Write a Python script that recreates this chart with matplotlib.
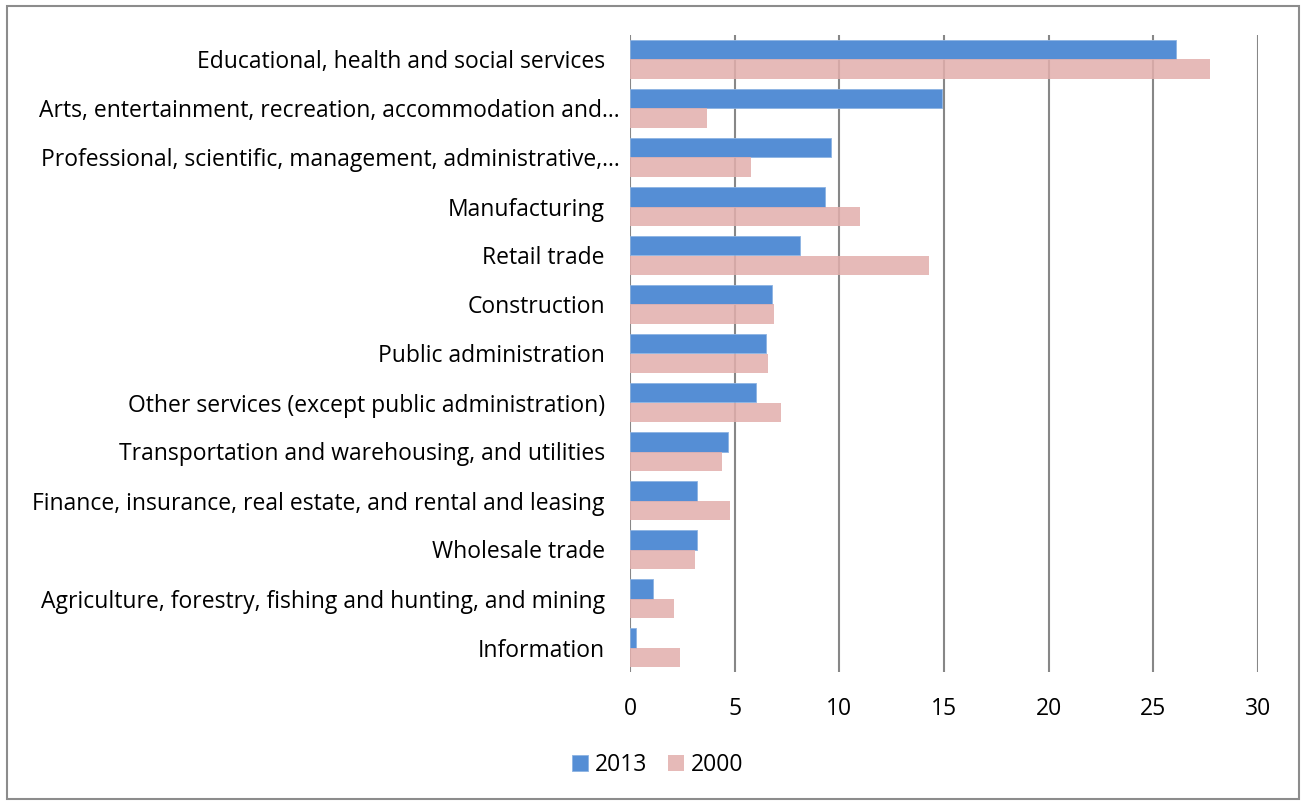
import matplotlib
matplotlib.use("Agg")
import matplotlib.pyplot as plt
import matplotlib.transforms as mtransforms
from matplotlib.patches import Rectangle

plt.rcParams['font.family'] = ['Open Sans', 'DejaVu Sans']

categories = [
    "Educational, health and social services",
    "Arts, entertainment, recreation, accommodation and\u2026",
    "Professional, scientific, management, administrative,\u2026",
    "Manufacturing",
    "Retail trade",
    "Construction",
    "Public administration",
    "Other services (except public administration)",
    "Transportation and warehousing, and utilities",
    "Finance, insurance, real estate, and rental and leasing",
    "Wholesale trade",
    "Agriculture, forestry, fishing and hunting, and mining",
    "Information",
]
vals_2013 = [26.1, 14.9, 9.6, 9.3, 8.1, 6.8, 6.5, 6.0, 4.7, 3.2, 3.2, 1.1, 0.3]
vals_2000 = [27.7, 3.7, 5.8, 11.0, 14.3, 6.9, 6.6, 7.2, 4.4, 4.8, 3.1, 2.1, 2.4]
xticks = [0, 5, 10, 15, 20, 25, 30]

blue = "#558ED5"
pink = "#E6B9B8"
grid = "#878787"

fig = plt.figure(figsize=(13.02, 8.01), dpi=100)
# outer chart border
fig.patches.append(Rectangle((7 / 1302, 2 / 801), 1292 / 1302, 793 / 801,
                             transform=fig.transFigure, fill=False,
                             edgecolor="#8c8c8c", linewidth=1.5))

ax = fig.add_axes([630 / 1302, 129 / 801, 628 / 1302, 637 / 801])

y = list(range(len(categories)))
h = 0.39
ax.barh([i - h / 2 for i in y], vals_2013, height=h, color=blue,
        edgecolor="#8db3e2", linewidth=0.6, label="2013", zorder=3)
ax.barh([i + h / 2 for i in y], vals_2000, height=h, color="#e2aeac",
        alpha=0.85, edgecolor="none", label="2000", zorder=3)

ax.set_xlim(0, 30)
ax.set_ylim(len(categories) - 0.5, -0.5)
ax.set_xticks(xticks)
ax.set_xticklabels([str(t) for t in xticks])
ax.set_yticks(y)
ax.set_yticklabels(categories)
ax.tick_params(axis="both", length=0, labelsize=16.5, colors="black")
ax.tick_params(axis="y", pad=18)
ax.tick_params(axis="x", pad=18)
for s in ax.spines.values():
    s.set_visible(False)
ax.xaxis.grid(True, color=grid, linewidth=1.5, zorder=0)
ax.set_axisbelow(True)

# truncated labels sit a bit closer to the axis in the original
shift = mtransforms.ScaledTranslation(15 / 100, 0, fig.dpi_scale_trans)
for lbl in ax.get_yticklabels():
    if lbl.get_text().endswith("\u2026"):
        lbl.set_transform(lbl.get_transform() + shift)

leg = fig.legend(loc="center", bbox_to_anchor=(658 / 1302, 1 - 765 / 801),
                 ncol=2, frameon=False, fontsize=16.5, handlelength=0.7,
                 handleheight=0.7, handletextpad=0.3, columnspacing=0.9)

fig.savefig("out.png", dpi=100)
